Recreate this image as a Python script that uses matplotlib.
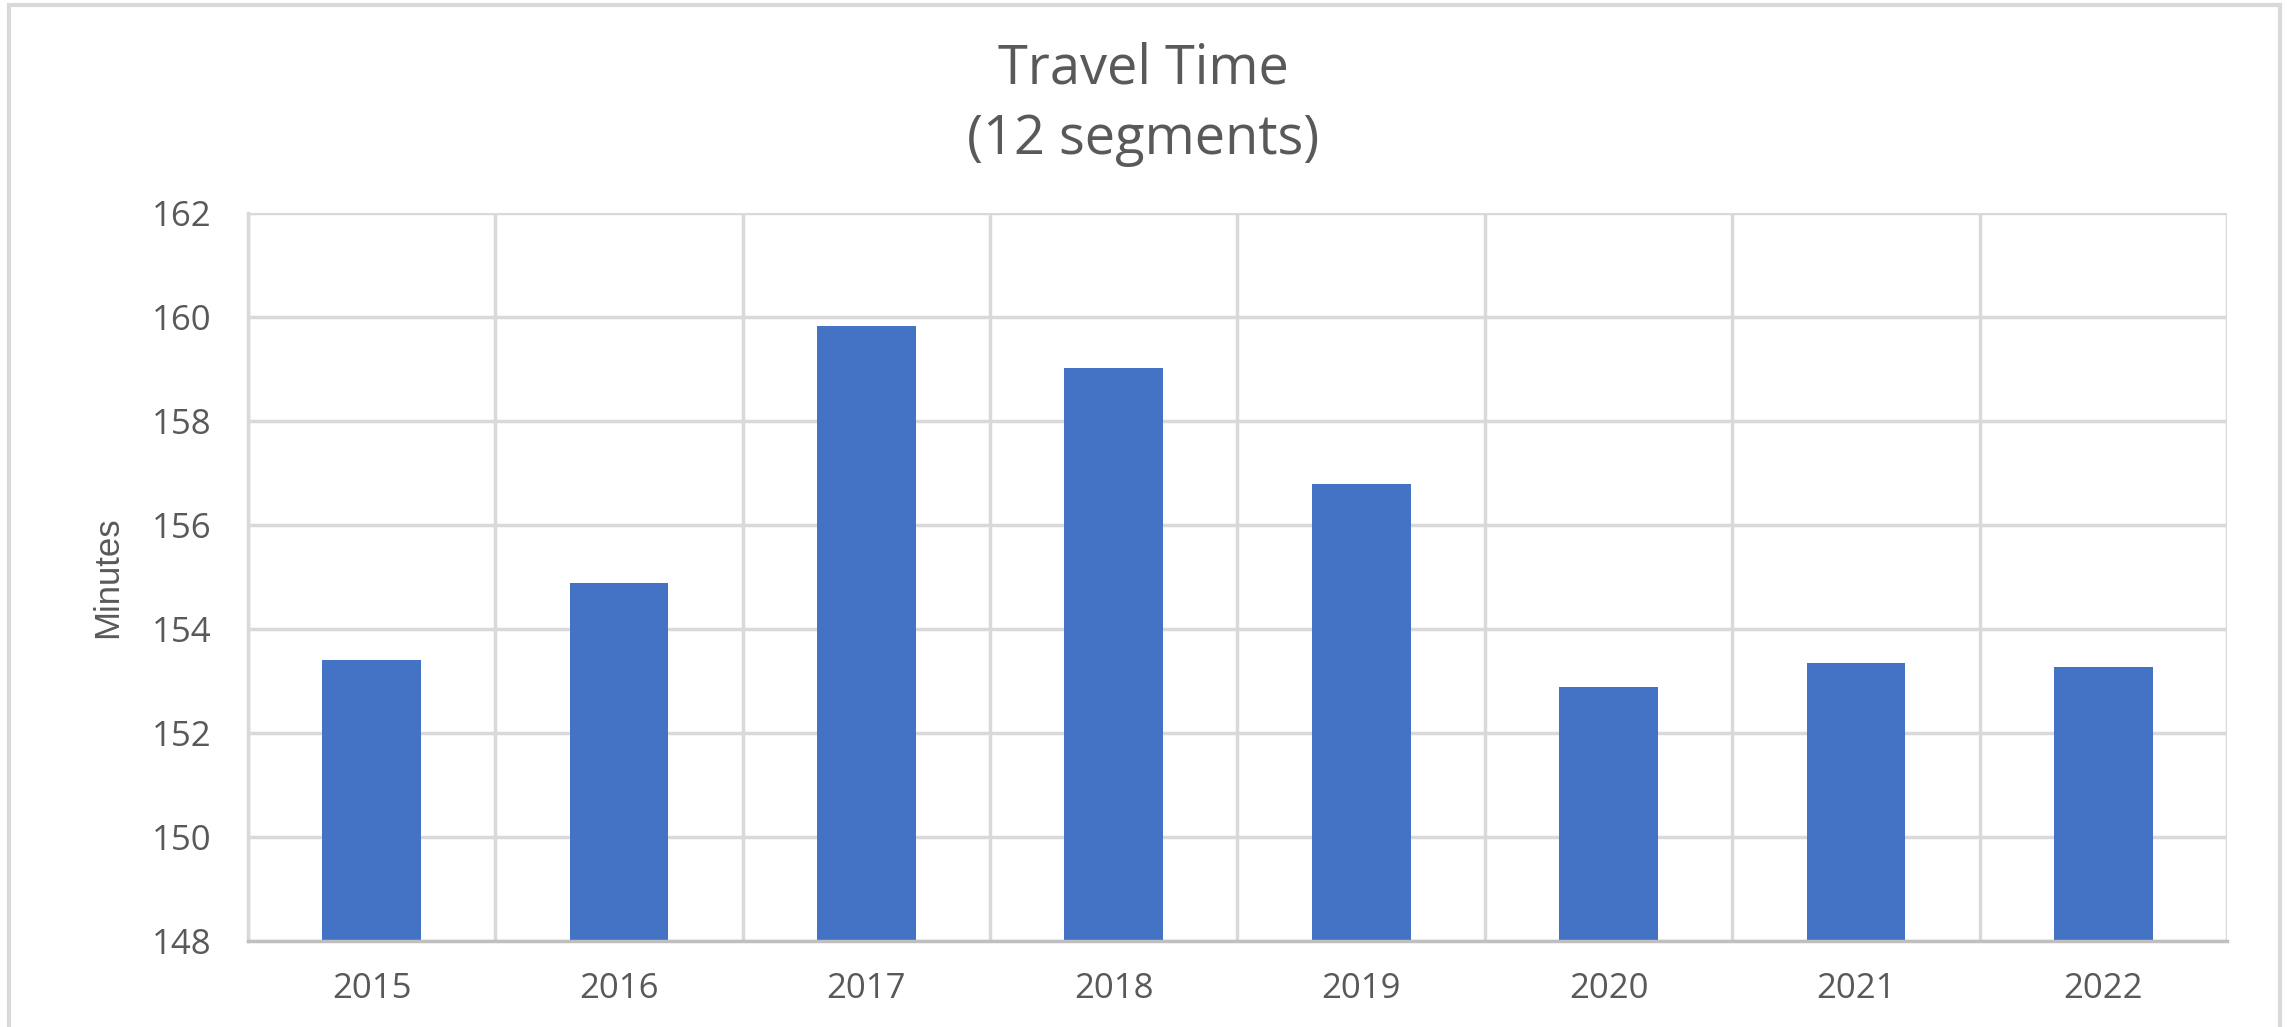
import matplotlib.pyplot as plt
from matplotlib.patches import Rectangle

# datos
years = ["2015", "2016", "2017", "2018", "2019", "2020", "2021", "2022"]
minutes = [153.40, 154.88, 159.82, 159.02, 156.79, 152.88, 153.34, 153.27]
yticks = [148, 150, 152, 154, 156, 158, 160, 162]

plt.rcParams['font.family'] = ['Open Sans', 'DejaVu Sans']
gray_text = '#595959'
grid_col = '#d9d9d9'

fig = plt.figure(figsize=(22.87, 10.27), dpi=100)
ax = fig.add_axes([0.1084, 0.0837, 0.9738 - 0.1084, 0.7926 - 0.0837])

x = list(range(len(years)))
ax.bar(x, minutes, width=0.40, color='#4472C4', zorder=3)

ax.set_ylim(148, 162)
ax.set_xlim(-0.5, len(years) - 0.5)
ax.set_yticks(yticks)
ax.set_xticks(x)
ax.set_xticklabels(years)

# lineas de la grilla (horizontales y entre categorias)
for yv in yticks:
    ax.axhline(yv, color=grid_col, lw=2.5, zorder=1)
for i in range(len(years) + 1):
    ax.axvline(i - 0.5, color=grid_col, lw=2.5, zorder=1)

for s in ['top', 'right']:
    ax.spines[s].set_visible(False)
ax.spines['left'].set_color(grid_col)
ax.spines['left'].set_linewidth(2.5)
ax.spines['bottom'].set_color('#bfbfbf')
ax.spines['bottom'].set_linewidth(2.5)
ax.spines['bottom'].set_zorder(4)

ax.tick_params(axis='both', length=0, labelsize=25, colors=gray_text)
ax.tick_params(axis='y', pad=26)
ax.tick_params(axis='x', pad=22)

ax.set_ylabel('Minutes', fontsize=25, color=gray_text, family='Liberation Sans', labelpad=20)

fig.text(0.5, 0.933, 'Travel Time', ha='center', va='center',
         fontsize=39, color=gray_text)
fig.text(0.5, 0.864, '(12 segments)', ha='center', va='center',
         fontsize=39, color=gray_text)

# borde del grafico
fig.patches.append(Rectangle((0.004, -0.01), 0.993, 1.005, transform=fig.transFigure,
                             fill=False, edgecolor=grid_col, lw=3))

fig.savefig('out.png', dpi=100)
